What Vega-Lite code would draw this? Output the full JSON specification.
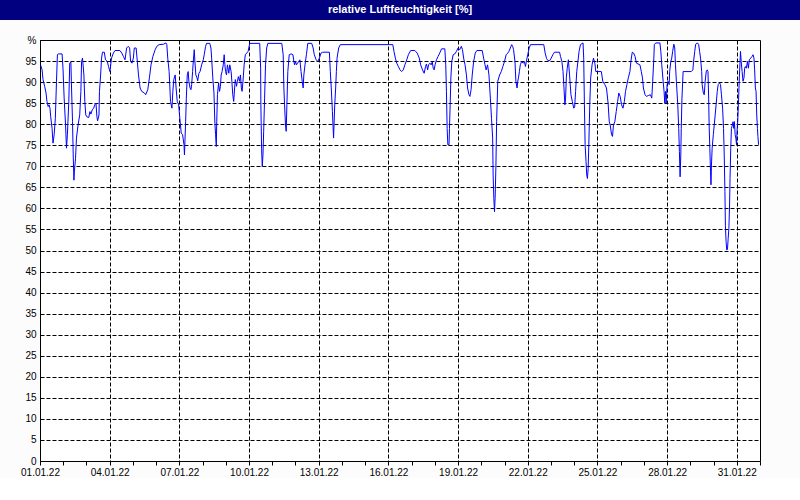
{
"$schema": "https://vega.github.io/schema/vega-lite/v6.json",
"background": "#fcfcfc",
"padding": 0,
"bounds": "flush",
"center": true,
"spacing": 20,
"vconcat": [
{
"width": 800, "height": 20,
"view": {"fill": "#000080", "stroke": null},
"data": {"values": [{"titel": "relative Luftfeuchtigkeit [%]"}]},
"mark": {"type": "text", "color": "white", "font": "Liberation Sans", "fontWeight": "bold", "fontSize": 11},
"encoding": {"text": {"field": "titel", "type": "nominal"}}
},
{
"width": 720, "height": 421,
"view": {"fill": "white", "stroke": "black", "strokeWidth": 1},
"data": {"values": [
{"tag":0.03,"rF":94.0},{"tag":0.09,"rF":92.9},{"tag":0.13,"rF":90.6},{"tag":0.20,"rF":89.0},{"tag":0.26,"rF":87.4},{"tag":0.30,"rF":85.4},{"tag":0.35,"rF":84.2},{"tag":0.39,"rF":84.6},{"tag":0.43,"rF":83.8},{"tag":0.46,"rF":81.8},{"tag":0.52,"rF":79.0},{"tag":0.56,"rF":75.5},{"tag":0.61,"rF":77.5},{"tag":0.66,"rF":81.4},{"tag":0.71,"rF":90.2},{"tag":0.75,"rF":96.5},{"tag":0.78,"rF":96.7},{"tag":0.95,"rF":96.7},{"tag":0.99,"rF":93.3},{"tag":1.04,"rF":86.2},{"tag":1.10,"rF":79.8},{"tag":1.14,"rF":74.3},{"tag":1.18,"rF":77.5},{"tag":1.24,"rF":85.4},{"tag":1.28,"rF":94.5},{"tag":1.33,"rF":94.8},{"tag":1.35,"rF":90.2},{"tag":1.40,"rF":80.6},{"tag":1.43,"rF":72.7},{"tag":1.46,"rF":66.7},{"tag":1.48,"rF":68.7},{"tag":1.53,"rF":71.9},{"tag":1.57,"rF":76.7},{"tag":1.64,"rF":79.8},{"tag":1.71,"rF":82.2},{"tag":1.76,"rF":87.8},{"tag":1.79,"rF":94.9},{"tag":1.83,"rF":95.7},{"tag":1.89,"rF":91.7},{"tag":1.93,"rF":85.4},{"tag":1.97,"rF":82.2},{"tag":2.03,"rF":81.7},{"tag":2.10,"rF":81.6},{"tag":2.15,"rF":83.0},{"tag":2.19,"rF":82.4},{"tag":2.25,"rF":83.4},{"tag":2.31,"rF":83.8},{"tag":2.36,"rF":84.6},{"tag":2.41,"rF":85.0},{"tag":2.45,"rF":81.8},{"tag":2.48,"rF":80.8},{"tag":2.54,"rF":82.2},{"tag":2.56,"rF":87.8},{"tag":2.61,"rF":91.7},{"tag":2.65,"rF":95.7},{"tag":2.69,"rF":97.1},{"tag":2.77,"rF":97.1},{"tag":2.82,"rF":95.3},{"tag":2.90,"rF":94.9},{"tag":2.95,"rF":93.7},{"tag":3.01,"rF":92.5},{"tag":3.08,"rF":95.7},{"tag":3.16,"rF":96.9},{"tag":3.23,"rF":97.5},{"tag":3.44,"rF":97.5},{"tag":3.52,"rF":96.9},{"tag":3.59,"rF":96.1},{"tag":3.66,"rF":95.3},{"tag":3.73,"rF":98.1},{"tag":3.80,"rF":98.5},{"tag":3.86,"rF":98.1},{"tag":3.90,"rF":94.9},{"tag":3.96,"rF":94.5},{"tag":4.02,"rF":95.7},{"tag":4.06,"rF":98.1},{"tag":4.14,"rF":98.1},{"tag":4.19,"rF":94.9},{"tag":4.24,"rF":91.7},{"tag":4.31,"rF":88.6},{"tag":4.38,"rF":87.8},{"tag":4.50,"rF":87.4},{"tag":4.55,"rF":87.0},{"tag":4.64,"rF":88.2},{"tag":4.71,"rF":91.0},{"tag":4.78,"rF":94.1},{"tag":4.86,"rF":96.1},{"tag":4.96,"rF":97.7},{"tag":5.03,"rF":98.5},{"tag":5.13,"rF":98.9},{"tag":5.32,"rF":99.0},{"tag":5.42,"rF":99.3},{"tag":5.46,"rF":98.9},{"tag":5.50,"rF":95.7},{"tag":5.56,"rF":92.5},{"tag":5.62,"rF":85.4},{"tag":5.68,"rF":83.8},{"tag":5.72,"rF":87.8},{"tag":5.76,"rF":90.6},{"tag":5.82,"rF":91.7},{"tag":5.86,"rF":88.6},{"tag":5.91,"rF":85.4},{"tag":5.97,"rF":84.6},{"tag":6.02,"rF":81.4},{"tag":6.08,"rF":77.9},{"tag":6.14,"rF":77.5},{"tag":6.20,"rF":75.1},{"tag":6.22,"rF":72.7},{"tag":6.27,"rF":80.6},{"tag":6.30,"rF":86.2},{"tag":6.34,"rF":91.7},{"tag":6.38,"rF":92.5},
{"tag":6.41,"rF":90.2},{"tag":6.46,"rF":88.6},{"tag":6.50,"rF":88.2},{"tag":6.53,"rF":89.4},{"tag":6.57,"rF":92.5},{"tag":6.60,"rF":94.9},{"tag":6.64,"rF":97.7},{"tag":6.67,"rF":94.9},{"tag":6.71,"rF":91.7},{"tag":6.76,"rF":91.0},{"tag":6.79,"rF":90.3},{"tag":6.84,"rF":92.1},{"tag":6.89,"rF":92.5},{"tag":6.96,"rF":94.1},{"tag":7.03,"rF":95.3},{"tag":7.07,"rF":96.5},{"tag":7.13,"rF":98.5},{"tag":7.17,"rF":99.2},{"tag":7.31,"rF":99.2},{"tag":7.36,"rF":98.1},{"tag":7.39,"rF":95.7},{"tag":7.44,"rF":91.0},{"tag":7.49,"rF":87.4},{"tag":7.53,"rF":80.2},{"tag":7.56,"rF":77.5},{"tag":7.59,"rF":74.7},{"tag":7.61,"rF":80.6},{"tag":7.64,"rF":87.0},{"tag":7.69,"rF":89.8},{"tag":7.73,"rF":87.8},{"tag":7.77,"rF":89.0},{"tag":7.80,"rF":91.7},{"tag":7.84,"rF":92.5},{"tag":7.89,"rF":94.1},{"tag":7.93,"rF":96.5},{"tag":7.96,"rF":94.1},{"tag":7.99,"rF":92.5},{"tag":8.03,"rF":91.7},{"tag":8.07,"rF":94.1},{"tag":8.13,"rF":92.1},{"tag":8.17,"rF":94.1},{"tag":8.23,"rF":92.5},{"tag":8.26,"rF":90.2},{"tag":8.30,"rF":87.0},{"tag":8.34,"rF":85.4},{"tag":8.39,"rF":89.4},{"tag":8.41,"rF":90.6},{"tag":8.46,"rF":89.0},{"tag":8.50,"rF":90.2},{"tag":8.54,"rF":91.3},{"tag":8.59,"rF":90.2},{"tag":8.63,"rF":91.7},{"tag":8.67,"rF":88.6},{"tag":8.70,"rF":87.8},{"tag":8.74,"rF":90.2},{"tag":8.79,"rF":94.1},{"tag":8.84,"rF":96.5},{"tag":8.90,"rF":96.9},{"tag":8.96,"rF":97.3},{"tag":9.03,"rF":99.2},{"tag":9.46,"rF":99.2},{"tag":9.50,"rF":93.3},{"tag":9.51,"rF":84.6},{"tag":9.54,"rF":74.3},{"tag":9.57,"rF":69.9},{"tag":9.60,"rF":72.7},{"tag":9.63,"rF":78.3},{"tag":9.67,"rF":86.2},{"tag":9.71,"rF":94.1},{"tag":9.76,"rF":98.1},{"tag":9.81,"rF":99.2},{"tag":10.41,"rF":99.2},{"tag":10.47,"rF":96.5},{"tag":10.50,"rF":88.6},{"tag":10.53,"rF":84.6},{"tag":10.57,"rF":79.8},{"tag":10.60,"rF":78.3},{"tag":10.63,"rF":84.6},{"tag":10.67,"rF":92.5},{"tag":10.73,"rF":96.5},{"tag":10.81,"rF":96.7},{"tag":10.89,"rF":96.5},{"tag":10.93,"rF":94.9},{"tag":10.96,"rF":94.1},{"tag":11.00,"rF":94.9},{"tag":11.04,"rF":94.1},{"tag":11.09,"rF":94.5},{"tag":11.14,"rF":94.9},{"tag":11.19,"rF":95.3},{"tag":11.21,"rF":94.1},{"tag":11.24,"rF":92.5},{"tag":11.29,"rF":90.2},{"tag":11.33,"rF":88.6},{"tag":11.36,"rF":91.7},{"tag":11.41,"rF":94.1},{"tag":11.47,"rF":96.5},{"tag":11.53,"rF":99.2},{"tag":11.70,"rF":99.2},{"tag":11.76,"rF":98.1},{"tag":11.81,"rF":96.5},{"tag":11.89,"rF":95.3},{"tag":11.96,"rF":94.9},{"tag":12.03,"rF":95.7},{"tag":12.10,"rF":96.9},{"tag":12.17,"rF":97.1},{"tag":12.46,"rF":97.1},{"tag":12.50,"rF":92.5},{"tag":12.54,"rF":88.6},{"tag":12.59,"rF":83.0},
{"tag":12.64,"rF":76.7},{"tag":12.69,"rF":84.6},{"tag":12.73,"rF":88.6},{"tag":12.76,"rF":92.5},{"tag":12.79,"rF":95.7},{"tag":12.86,"rF":98.1},{"tag":12.93,"rF":98.9},{"tag":15.19,"rF":98.9},{"tag":15.24,"rF":97.3},{"tag":15.30,"rF":95.7},{"tag":15.36,"rF":94.5},{"tag":15.43,"rF":93.7},{"tag":15.50,"rF":92.9},{"tag":15.57,"rF":92.5},{"tag":15.64,"rF":92.9},{"tag":15.71,"rF":94.1},{"tag":15.79,"rF":95.3},{"tag":15.86,"rF":96.5},{"tag":15.96,"rF":97.5},{"tag":16.14,"rF":97.5},{"tag":16.24,"rF":96.9},{"tag":16.33,"rF":95.7},{"tag":16.39,"rF":94.1},{"tag":16.47,"rF":92.9},{"tag":16.54,"rF":92.1},{"tag":16.60,"rF":93.7},{"tag":16.64,"rF":94.3},{"tag":16.69,"rF":92.9},{"tag":16.73,"rF":94.1},{"tag":16.79,"rF":94.5},{"tag":16.84,"rF":94.1},{"tag":16.89,"rF":94.8},{"tag":16.93,"rF":93.3},{"tag":16.97,"rF":92.9},{"tag":17.01,"rF":94.1},{"tag":17.07,"rF":95.3},{"tag":17.14,"rF":96.1},{"tag":17.21,"rF":96.9},{"tag":17.29,"rF":97.9},{"tag":17.43,"rF":97.9},{"tag":17.47,"rF":94.1},{"tag":17.50,"rF":87.8},{"tag":17.53,"rF":79.0},{"tag":17.56,"rF":75.1},{"tag":17.61,"rF":75.1},{"tag":17.63,"rF":79.0},{"tag":17.66,"rF":84.6},{"tag":17.69,"rF":91.0},{"tag":17.73,"rF":94.9},{"tag":17.79,"rF":96.5},{"tag":17.86,"rF":96.7},{"tag":17.93,"rF":97.3},{"tag":18.00,"rF":98.1},{"tag":18.07,"rF":97.7},{"tag":18.14,"rF":98.5},{"tag":18.19,"rF":97.7},{"tag":18.24,"rF":95.7},{"tag":18.30,"rF":94.1},{"tag":18.36,"rF":91.7},{"tag":18.41,"rF":88.6},{"tag":18.47,"rF":87.0},{"tag":18.51,"rF":86.6},{"tag":18.56,"rF":88.2},{"tag":18.61,"rF":91.7},{"tag":18.67,"rF":94.9},{"tag":18.74,"rF":96.9},{"tag":18.81,"rF":97.5},{"tag":19.04,"rF":97.5},{"tag":19.10,"rF":95.7},{"tag":19.16,"rF":94.1},{"tag":19.21,"rF":92.9},{"tag":19.27,"rF":94.1},{"tag":19.33,"rF":91.7},{"tag":19.39,"rF":86.2},{"tag":19.44,"rF":81.4},{"tag":19.49,"rF":76.7},{"tag":19.51,"rF":67.9},{"tag":19.54,"rF":62.4},{"tag":19.57,"rF":59.2},{"tag":19.60,"rF":63.2},{"tag":19.63,"rF":70.3},{"tag":19.66,"rF":80.6},{"tag":19.71,"rF":90.2},{"tag":19.79,"rF":91.7},{"tag":19.86,"rF":92.5},{"tag":19.93,"rF":93.7},{"tag":20.00,"rF":94.9},{"tag":20.07,"rF":96.5},{"tag":20.14,"rF":96.9},
{"tag":20.19,"rF":97.3},{"tag":20.25,"rF":98.1},{"tag":20.31,"rF":98.9},{"tag":20.35,"rF":98.5},{"tag":20.39,"rF":97.7},{"tag":20.45,"rF":94.9},{"tag":20.49,"rF":90.2},{"tag":20.54,"rF":88.6},{"tag":20.57,"rF":90.2},{"tag":20.60,"rF":91.0},{"tag":20.64,"rF":92.5},{"tag":20.68,"rF":94.1},{"tag":20.74,"rF":94.9},{"tag":20.80,"rF":94.5},{"tag":20.86,"rF":94.8},{"tag":20.90,"rF":93.7},{"tag":20.94,"rF":94.9},{"tag":21.00,"rF":96.5},{"tag":21.06,"rF":98.1},{"tag":21.12,"rF":98.9},{"tag":21.69,"rF":98.9},{"tag":21.75,"rF":96.9},{"tag":21.81,"rF":95.6},{"tag":21.87,"rF":95.1},{"tag":21.95,"rF":95.1},{"tag":22.01,"rF":95.7},{"tag":22.08,"rF":96.5},{"tag":22.15,"rF":97.1},{"tag":22.37,"rF":97.1},{"tag":22.41,"rF":96.1},{"tag":22.47,"rF":94.9},{"tag":22.52,"rF":92.5},{"tag":22.56,"rF":88.6},{"tag":22.60,"rF":84.6},{"tag":22.63,"rF":86.2},{"tag":22.66,"rF":91.0},{"tag":22.70,"rF":93.3},{"tag":22.75,"rF":95.3},{"tag":22.80,"rF":91.7},{"tag":22.86,"rF":87.0},{"tag":22.92,"rF":85.4},{"tag":22.98,"rF":83.8},{"tag":23.02,"rF":84.1},{"tag":23.06,"rF":87.8},{"tag":23.11,"rF":92.5},{"tag":23.16,"rF":94.9},{"tag":23.21,"rF":97.3},{"tag":23.27,"rF":98.9},{"tag":23.38,"rF":99.3},{"tag":23.41,"rF":95.7},{"tag":23.44,"rF":84.6},{"tag":23.47,"rF":75.1},{"tag":23.51,"rF":71.1},{"tag":23.54,"rF":67.9},{"tag":23.57,"rF":67.1},{"tag":23.60,"rF":69.4},{"tag":23.63,"rF":75.1},{"tag":23.67,"rF":84.6},{"tag":23.71,"rF":91.0},{"tag":23.77,"rF":94.1},{"tag":23.83,"rF":95.7},{"tag":23.89,"rF":94.5},{"tag":23.93,"rF":92.5},{"tag":24.17,"rF":92.5},{"tag":24.23,"rF":90.2},{"tag":24.32,"rF":89.4},{"tag":24.39,"rF":88.6},{"tag":24.46,"rF":85.0},{"tag":24.51,"rF":80.6},{"tag":24.55,"rF":79.8},{"tag":24.61,"rF":77.5},{"tag":24.65,"rF":77.1},{"tag":24.69,"rF":79.8},{"tag":24.75,"rF":80.6},{"tag":24.81,"rF":83.0},{"tag":24.87,"rF":85.4},{"tag":24.92,"rF":87.4},{"tag":24.98,"rF":86.6},{"tag":25.04,"rF":84.6},{"tag":25.10,"rF":83.8},{"tag":25.16,"rF":85.4},{"tag":25.21,"rF":87.8},{"tag":25.27,"rF":89.4},{"tag":25.33,"rF":91.0},{"tag":25.40,"rF":92.5},{"tag":25.44,"rF":94.9},{"tag":25.50,"rF":97.1},{"tag":25.56,"rF":96.9},{"tag":25.62,"rF":96.1},{"tag":25.68,"rF":94.5},{"tag":25.83,"rF":94.1},{"tag":25.89,"rF":92.5},{"tag":25.94,"rF":91.0},{"tag":25.98,"rF":88.6},{"tag":26.05,"rF":87.0},{"tag":26.11,"rF":86.6},{"tag":26.19,"rF":86.8},{"tag":26.28,"rF":87.0},{"tag":26.34,"rF":86.2},{"tag":26.38,"rF":90.2},{"tag":26.43,"rF":95.7},{"tag":26.45,"rF":98.9},
{"tag":26.51,"rF":99.3},{"tag":26.69,"rF":99.3},{"tag":26.73,"rF":97.3},{"tag":26.77,"rF":94.1},{"tag":26.83,"rF":90.2},{"tag":26.87,"rF":87.8},{"tag":26.90,"rF":85.0},{"tag":26.93,"rF":87.8},{"tag":26.96,"rF":85.0},{"tag":27.00,"rF":89.4},{"tag":27.04,"rF":90.2},{"tag":27.09,"rF":89.4},{"tag":27.11,"rF":92.5},{"tag":27.16,"rF":94.9},{"tag":27.20,"rF":95.7},{"tag":27.24,"rF":97.3},{"tag":27.29,"rF":99.0},{"tag":27.33,"rF":98.1},{"tag":27.36,"rF":94.1},{"tag":27.40,"rF":90.2},{"tag":27.46,"rF":84.6},{"tag":27.50,"rF":79.0},{"tag":27.53,"rF":73.5},{"tag":27.56,"rF":67.5},{"tag":27.59,"rF":72.7},{"tag":27.61,"rF":79.0},{"tag":27.64,"rF":86.2},{"tag":27.69,"rF":92.5},{"tag":28.04,"rF":92.5},{"tag":28.11,"rF":92.9},{"tag":28.14,"rF":94.9},{"tag":28.19,"rF":97.3},{"tag":28.23,"rF":99.0},{"tag":28.31,"rF":99.3},{"tag":28.36,"rF":98.9},{"tag":28.40,"rF":97.3},{"tag":28.44,"rF":95.7},{"tag":28.49,"rF":92.5},{"tag":28.51,"rF":89.4},{"tag":28.56,"rF":87.4},{"tag":28.60,"rF":87.0},{"tag":28.64,"rF":90.2},{"tag":28.69,"rF":92.7},{"tag":28.73,"rF":92.9},{"tag":28.76,"rF":92.5},{"tag":28.79,"rF":86.2},{"tag":28.81,"rF":79.8},{"tag":28.84,"rF":74.3},{"tag":28.87,"rF":68.7},{"tag":28.89,"rF":65.6},{"tag":28.91,"rF":70.3},{"tag":28.94,"rF":74.3},{"tag":28.99,"rF":77.5},{"tag":29.03,"rF":79.8},{"tag":29.07,"rF":82.2},{"tag":29.11,"rF":84.6},{"tag":29.16,"rF":87.8},{"tag":29.20,"rF":89.4},{"tag":29.26,"rF":89.8},{"tag":29.30,"rF":89.4},{"tag":29.34,"rF":87.0},{"tag":29.39,"rF":83.8},{"tag":29.43,"rF":79.0},{"tag":29.46,"rF":72.7},{"tag":29.49,"rF":64.0},{"tag":29.51,"rF":56.0},{"tag":29.54,"rF":52.1},{"tag":29.57,"rF":50.1},{"tag":29.60,"rF":50.3},{"tag":29.63,"rF":52.9},{"tag":29.66,"rF":55.2},{"tag":29.69,"rF":60.8},{"tag":29.71,"rF":67.1},{"tag":29.74,"rF":74.3},{"tag":29.77,"rF":79.0},{"tag":29.81,"rF":79.8},{"tag":29.84,"rF":80.6},{"tag":29.87,"rF":79.0},{"tag":29.90,"rF":80.6},{"tag":29.93,"rF":77.5},{"tag":29.96,"rF":76.7},{"tag":29.99,"rF":75.1},{"tag":30.01,"rF":78.3},{"tag":30.04,"rF":80.6},{"tag":30.07,"rF":84.6},{"tag":30.11,"rF":91.0},{"tag":30.16,"rF":97.3},{"tag":30.19,"rF":94.9},{"tag":30.23,"rF":92.5},{"tag":30.27,"rF":90.2},{"tag":30.31,"rF":91.0},{"tag":30.34,"rF":93.3},{"tag":30.37,"rF":93.7},{"tag":30.41,"rF":93.3},{"tag":30.46,"rF":94.9},{"tag":30.50,"rF":93.3},{"tag":30.54,"rF":95.3},{"tag":30.60,"rF":95.7},{"tag":30.66,"rF":96.1},{"tag":30.70,"rF":96.5},{"tag":30.74,"rF":95.7},{"tag":30.77,"rF":92.9},{"tag":30.80,"rF":88.6},{"tag":30.83,"rF":87.8},{"tag":30.86,"rF":82.2},{"tag":30.89,"rF":79.0},{"tag":30.91,"rF":77.1},{"tag":30.94,"rF":75.1}
]},
"mark": {"type": "line", "color": "#0000ff", "strokeWidth": 1, "clip": true},
"encoding": {
"x": {"field": "tag", "type": "quantitative", "title": null,
 "scale": {"domain": [0, 31], "nice": false, "zero": false},
 "axis": {
  "values": [0,1,2,3,4,5,6,7,8,9,10,11,12,13,14,15,16,17,18,19,20,21,22,23,24,25,26,27,28,29,30,31],
  "labelExpr": "datum.value % 3 == 0 && datum.value < 31 ? timeFormat(datetime(2022, 0, 1 + datum.value), '%d.%m.%y') : ''",
  "domain": false,
  "ticks": true, "tickColor": "black", "tickSize": 4, "tickWidth": 1,
  "grid": true, "gridColor": "black", "gridDash": [4, 2], "gridWidth": 1,
  "gridOpacity": {"condition": {"test": "datum.value % 3 == 0", "value": 1}, "value": 0},
  "labelFont": "Liberation Sans", "labelFontSize": 10, "labelColor": "black", "labelPadding": 2,
  "labelOverlap": false, "labelFlush": false, "labelBound": false
 }},
"y": {"field": "rF", "type": "quantitative", "title": null,
 "scale": {"domain": [0, 100], "nice": false, "zero": true},
 "axis": {
  "values": [0,5,10,15,20,25,30,35,40,45,50,55,60,65,70,75,80,85,90,95,100],
  "labelExpr": "datum.value == 100 ? '%' : datum.label",
  "domain": false, "ticks": false, "tickSize": 0,
  "grid": true, "gridColor": "black", "gridDash": [4, 2], "gridWidth": 1, "gridOpacity": 1,
  "labelFont": "Liberation Sans", "labelFontSize": 10, "labelColor": "black", "labelPadding": 4,
  "labelOverlap": false, "labelFlush": false, "labelBound": false
 }}
}
}
]
}
